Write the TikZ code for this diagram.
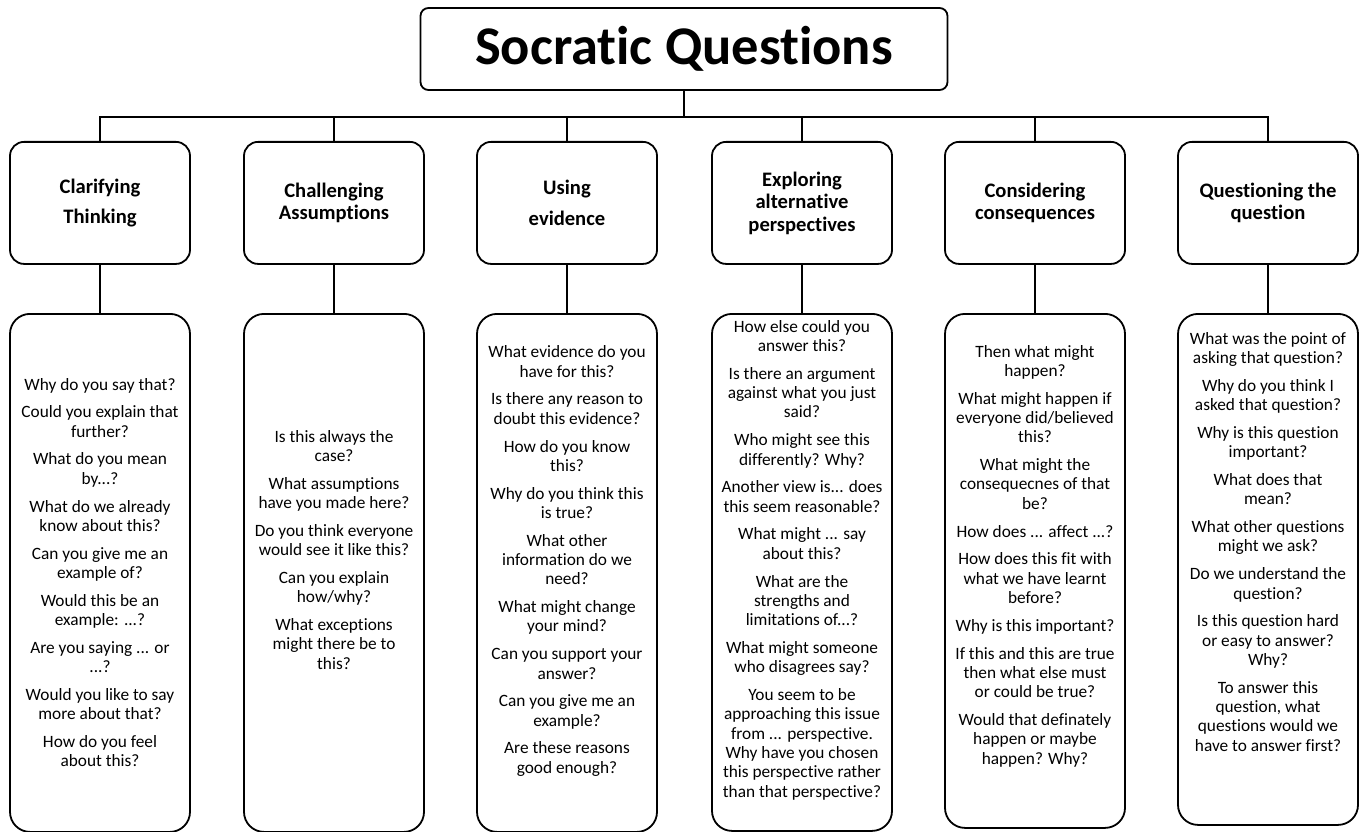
\documentclass[tikz,border=0pt]{standalone}
\usepackage{fontspec}
\setmainfont{Carlito}[Ligatures=NoCommon]
\begin{document}
\begin{tikzpicture}[x=1pt,y=-1pt,
  boxline/.style={draw=black, line width=1.8pt},
  titlebox/.style={boxline, rounded corners=8pt, minimum width=527pt, minimum height=82pt, inner sep=0pt,
    font=\fontsize{54.5}{60}\selectfont\bfseries},
  headbox/.style={boxline, rounded corners=14pt, minimum width=180pt, minimum height=122pt, inner sep=0pt,
    align=center, anchor=north, font=\fontsize{20.6}{22.5}\selectfont\bfseries},
  qbox/.style={boxline, rounded corners=20pt, minimum width=180pt, inner sep=0pt, anchor=north},
  qtext/.style={align=center, inner sep=0pt, font=\fontsize{17.3}{19.3}\selectfont},
  conn/.style={draw=black, line width=1.8pt}
]
\useasboundingbox (0,0) rectangle (1362,832);

\node[titlebox] (title) at (684,49) {Socratic Questions};

\node[headbox] (h1) at (100,141) {Clarifying\\[8pt]Thinking};
\node[headbox] (h2) at (334,141) {Challenging\\Assumptions};
\node[headbox] (h3) at (567,141) {Using\\[8pt]evidence};
\node[headbox] (h4) at (802,141) {Exploring\\alternative\\perspectives};
\node[headbox] (h5) at (1035,141) {Considering\\consequences};
\node[headbox] (h6) at (1268,141) {Questioning the\\question};

\node[qbox, minimum height=518pt] (q1) at (100,313) {};
\node[qbox, minimum height=518pt] (q2) at (334,313) {};
\node[qbox, minimum height=518pt] (q3) at (567,313) {};
\node[qbox, minimum height=517pt] (q4) at (802,313) {};
\node[qbox, minimum height=514pt] (q5) at (1035,313) {};
\node[qbox, minimum height=511pt] (q6) at (1268,313) {};

\foreach \i in {1,...,6} {
  \draw[conn] (title.south) -- ++(0,26) -| (h\i.north);
  \draw[conn] (h\i.south) -- (q\i.north);
}

\node[qtext] (t1) at (100,572.5) {Why do you say that?\\[8.5pt]
Could you explain that\\further?\\[8.5pt]
What do you mean\\by...?\\[8.5pt]
What do we already\\know about this?\\[8.5pt]
Can you give me an\\example of?\\[8.5pt]
Would this be an\\example: ...?\\[8.5pt]
Are you saying ... or\\...?\\[8.5pt]
Would you like to say\\more about that?\\[8.5pt]
How do you feel\\about this?};

\node[qtext] (t2) at (334,549.7) {Is this always the\\case?\\[8.5pt]
What assumptions\\have you made here?\\[8.5pt]
Do you think everyone\\would see it like this?\\[8.5pt]
Can you explain\\how/why?\\[8.5pt]
What exceptions\\might there be to\\this?};

\node[qtext] (t3) at (567,561) {What evidence do you\\have for this?\\[8.5pt]
Is there any reason to\\doubt this evidence?\\[8.5pt]
How do you know\\this?\\[8.5pt]
Why do you think this\\is true?\\[8.5pt]
What other\\information do we\\need?\\[8.5pt]
What might change\\your mind?\\[8.5pt]
Can you support your\\answer?\\[8.5pt]
Can you give me an\\example?\\[8.5pt]
Are these reasons\\good enough?};

\node[qtext] (t4) at (802,560) {How else could you\\answer this?\\[8.5pt]
Is there an argument\\against what you just\\said?\\[8.5pt]
Who might see this\\differently? Why?\\[8.5pt]
Another view is... does\\this seem reasonable?\\[8.5pt]
What might ... say\\about this?\\[8.5pt]
What are the\\strengths and\\limitations of...?\\[8.5pt]
What might someone\\who disagrees say?\\[8.5pt]
You seem to be\\approaching this issue\\from ... perspective.\\Why have you chosen\\this perspective rather\\than that perspective?};

\node[qtext] (t5) at (1035,556) {Then what might\\happen?\\[8.5pt]
What might happen if\\everyone did/believed\\this?\\[8.5pt]
What might the\\consequecnes of that\\be?\\[8.5pt]
How does ... affect ...?\\[8.5pt]
How does this fit with\\what we have learnt\\before?\\[8.5pt]
Why is this important?\\[8.5pt]
If this and this are true\\then what else must\\or could be true?\\[8.5pt]
Would that definately\\happen or maybe\\happen? Why?};

\node[qtext] (t6) at (1268,541.7) {What was the point of\\asking that question?\\[8.5pt]
Why do you think I\\asked that question?\\[8.5pt]
Why is this question\\important?\\[8.5pt]
What does that\\mean?\\[8.5pt]
What other questions\\might we ask?\\[8.5pt]
Do we understand the\\question?\\[8.5pt]
Is this question hard\\or easy to answer?\\Why?\\[8.5pt]
To answer this\\question, what\\questions would we\\have to answer first?};
\end{tikzpicture}
\end{document}
